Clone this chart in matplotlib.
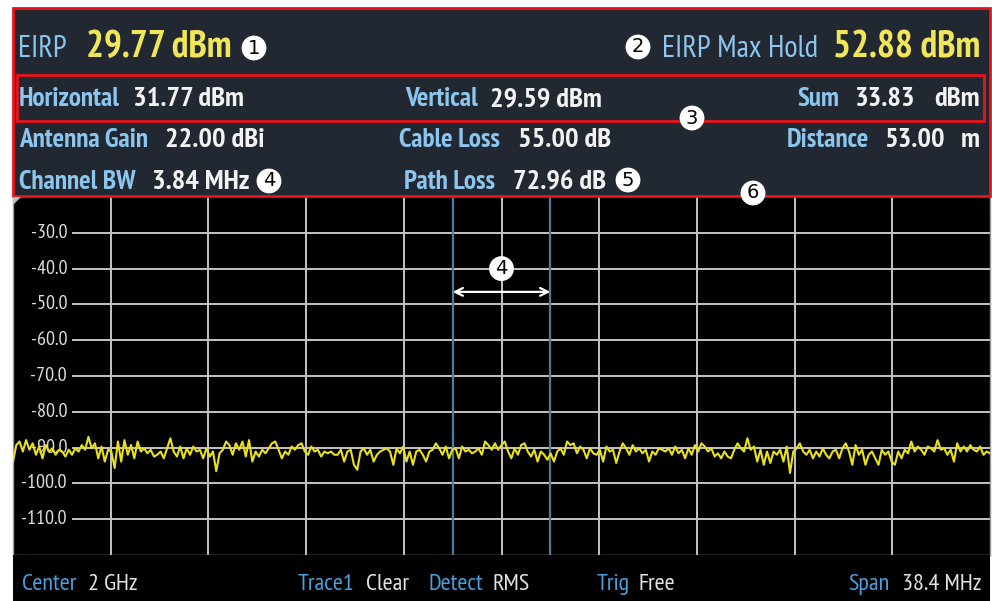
import matplotlib
matplotlib.use('Agg')
import matplotlib.pyplot as plt
from matplotlib import font_manager
from matplotlib.patches import Rectangle, Polygon
import numpy as np

# spectrum settings
center_freq = '2 GHz'
span_mhz = 38.4
channel_bw_mhz = 3.84
ref_top, ref_bottom = -20, -120
level_ticks = [-30, -40, -50, -60, -70, -80, -90, -100, -110]

# trace (dBm) left to right
trace_left = [-93.9, -89.3, -88.3, -91.1, -87.9, -90.6, -88.8, -92.0, -89.7, -93.0,
              -89.3, -91.1, -90.2, -92.0, -90.6, -91.1, -92.5, -90.6, -92.0, -90.2,
              -91.1, -89.3, -90.6, -87.0, -90.2, -88.8, -93.0, -89.7, -93.9, -90.6,
              -91.1, -95.7, -88.3, -93.9, -87.9, -92.0, -89.3, -93.0, -88.3, -91.1,
              -90.2, -91.6, -90.6, -92.5, -92.0, -91.1, -93.0, -90.2, -87.4, -91.1,
              -92.5, -89.7, -93.0, -90.2, -92.0, -89.7, -91.1, -90.6, -93.0, -90.2,
              -92.5, -91.1, -96.6, -91.6, -90.6, -88.3, -89.3, -92.0, -88.8, -90.6,
              -88.3, -92.5, -87.9, -93.9, -91.1, -92.5, -90.6, -91.6, -90.2, -88.8,
              -88.3, -90.6, -93.0, -91.1, -92.0, -89.7, -90.6, -89.3, -88.8, -91.1,
              -92.0, -89.7, -91.1, -90.6, -92.5, -91.1, -91.6, -91.1, -92.0]
trace_mid = [-92.0, -90.6, -93.9, -91.1, -90.6, -94.8, -96.2, -91.1, -90.2, -92.0,
             -90.6, -93.9, -92.0, -91.1, -90.6, -90.2, -91.1, -94.8, -90.2, -91.6,
             -89.7, -93.9, -91.1, -94.8, -91.1, -90.6, -92.0, -93.9, -91.1, -90.6,
             -88.8, -90.2, -92.0, -89.7, -93.0, -90.6, -90.2, -93.0, -89.7, -91.1,
             -90.6, -91.6, -91.1, -90.2, -92.0, -88.3, -89.3, -90.6, -88.8, -90.6,
             -89.3, -88.3, -91.1, -93.0, -90.2, -92.0, -89.3, -88.8, -91.1, -92.5,
             -90.6, -93.9, -91.1, -92.0, -93.4, -91.6, -93.9, -91.1, -90.2, -92.0,
             -88.3, -89.3, -88.8, -91.6, -89.7, -90.6, -93.0, -90.2, -91.6, -92.0,
             -90.6, -93.9, -89.7, -91.1, -90.6, -94.3, -91.1, -88.8, -90.2, -92.0,
             -89.3, -91.1, -90.2, -91.6, -90.6, -93.9, -91.1, -92.0, -90.2]
trace_right = [-90.6, -91.1, -90.2, -92.0, -89.7, -91.6, -90.6, -93.0, -90.2, -92.0,
               -89.3, -91.1, -88.8, -89.7, -91.1, -90.2, -92.5, -91.6, -93.0, -91.1,
               -92.5, -93.0, -90.6, -88.8, -90.2, -91.1, -87.4, -90.6, -89.7, -93.9,
               -90.6, -94.8, -91.1, -94.3, -91.1, -92.0, -90.6, -93.9, -89.7, -97.1,
               -91.1, -90.2, -88.8, -91.1, -92.0, -90.6, -93.0, -91.1, -92.5, -90.2,
               -92.0, -93.0, -91.1, -90.6, -93.0, -90.2, -88.8, -91.1, -94.8, -89.3,
               -92.0, -90.6, -94.8, -92.0, -91.1, -93.0, -94.8, -90.6, -92.0, -91.1,
               -93.9, -94.8, -91.1, -93.0, -90.6, -91.6, -88.3, -91.1, -89.7, -90.6,
               -92.0, -89.7, -90.2, -91.1, -87.9, -90.6, -90.2, -92.0, -90.6, -93.9,
               -88.8, -91.1, -89.7, -91.1, -89.3, -90.6, -91.1, -89.7, -92.0, -91.1,
               -91.6]

# header readouts
eirp = ('EIRP', '29.77 dBm')
eirp_max = ('EIRP Max Hold', '52.88 dBm')
header_labels = ['Horizontal', 'Vertical', 'Sum',
                 'Antenna Gain', 'Cable Loss', 'Distance',
                 'Channel BW', 'Path Loss']
header_values = ['31.77', '29.59', '33.83',
                 '22.00', '55.00', '53.00',
                 '3.84', '72.96']
header_units = ['dBm', 'dBm', 'dBm',
                'dBi', 'dB', 'm',
                'MHz', 'dB']

# status bar
status_labels = ['Center', 'Trace1', 'Detect', 'Trig', 'Span']
status_values = [center_freq, 'Clear', 'RMS', 'Free', '38.4 MHz']

# pick a narrow sans font
avail = {f.name for f in font_manager.fontManager.ttflist}
prefs = ['Liberation Sans Narrow', 'Arial Narrow', 'PT Sans Narrow', 'Archivo Narrow',
         'Roboto Condensed', 'Sofia Sans Semi Condensed', 'Liberation Sans']
narrow = [p for p in prefs if p in avail][0]
plt.rcParams['font.family'] = [narrow, 'DejaVu Sans']

W, H = 992, 601
fig = plt.figure(figsize=(W / 100, H / 100), dpi=100)
fig.patch.set_facecolor('white')

# colours
panel_bg = '#222831'
lbl_blue = '#8cc6ee'
bar_blue = '#4a9fdc'
yellow = '#f1e65a'
red = '#e8141c'
grid_c = '#c4c4c4'

# ---- spectrum plot ----
x0, x1, y0, y1 = 13, 990, 197, 555
ax = fig.add_axes([x0 / W, 1 - y1 / H, (x1 - x0) / W, (y1 - y0) / H])
ax.set_facecolor('black')
ax.set_xlim(-span_mhz / 2, span_mhz / 2)
ax.set_ylim(ref_bottom, ref_top)
ax.set_xticks([])
ax.set_yticks([])
for s in ax.spines.values():
    s.set_color('#9a9a9a')
    s.set_linewidth(1)
ax.spines['top'].set_visible(False)

div = span_mhz / 10
for i in range(1, 10):
    ax.axvline(-span_mhz / 2 + i * div, color=grid_c, lw=1.4, zorder=1)
label_end = (73 - x0) / (x1 - x0)
for lv in level_ticks:
    ax.axhline(lv, xmin=label_end, color=grid_c, lw=1.4, zorder=1)
    ax.text((67 - x0) / (x1 - x0), lv, '%.1f' % lv, transform=ax.get_yaxis_transform(),
            ha='right', va='center', color='#dcdcdc', fontsize=14.5, zorder=2)

# channel bandwidth markers
for xb in (-channel_bw_mhz / 2, channel_bw_mhz / 2):
    ax.axvline(xb, color='#4f7d9e', lw=1.6, zorder=2)
ax.annotate('', xy=(-channel_bw_mhz / 2, -46.5), xytext=(channel_bw_mhz / 2, -46.5),
            arrowprops=dict(arrowstyle='<->', color='white', lw=1.6,
                            shrinkA=0, shrinkB=0, mutation_scale=14), zorder=4)
ax.text(0, -40, '4', ha='center', va='center', fontsize=14, color='black',
        family='DejaVu Sans', zorder=5,
        bbox=dict(boxstyle='circle,pad=0.15', fc='white', ec='none'))

trace = trace_left + trace_mid + trace_right
freq = np.linspace(-span_mhz / 2, span_mhz / 2, len(trace))
ax.plot(freq, trace, color='#e9e01e', lw=1.5, zorder=3)

# ---- overlay in pixel coordinates ----
ov = fig.add_axes([0, 0, 1, 1], zorder=10)
ov.set_xlim(0, W)
ov.set_ylim(H, 0)
ov.axis('off')
ov.patch.set_alpha(0)

# header panel
ov.add_patch(Rectangle((13, 8), 977, 188, fc=panel_bg, ec=red, lw=2, zorder=1))
ov.add_patch(Rectangle((17, 75), 967, 46, fc='none', ec=red, lw=2, zorder=2))
# status bar
ov.add_patch(Rectangle((13, 555), 977, 46, fc='black', ec='none', zorder=1))
# corner marker
ov.add_patch(Polygon([[13, 197], [21, 197], [13, 205]], fc='#bdbdbd', ec='none', zorder=2))


def badge(x, y, n):
    ov.text(x, y, str(n), ha='center', va='center', fontsize=14, color='black',
            family='DejaVu Sans', zorder=6,
            bbox=dict(boxstyle='circle,pad=0.15', fc='white', ec='none'))


# EIRP row
ov.text(18, 57, eirp[0], color=lbl_blue, fontsize=22, zorder=3)
ov.text(86, 57, eirp[1], color=yellow, fontsize=27, fontweight='bold', zorder=3)
ov.text(818, 57, eirp_max[0], color=lbl_blue, fontsize=22, ha='right', zorder=3)
ov.text(980, 57, eirp_max[1], color=yellow, fontsize=27, fontweight='bold', ha='right', zorder=3)

# readout grid positions: label x, value x, unit x (None = follows value), baseline
hdr_pos = [(19, 133, None, 106), (405, 490, None, 106), (797, 915, 980, 106),
           (19, 165, None, 147), (399, 518, None, 147), (787, 945, 980, 147),
           (19, 152, None, 189), (404, 513, None, 189)]
for lab, val, unit, (lx, vx, ux, by) in zip(header_labels, header_values, header_units, hdr_pos):
    ov.text(lx, by, lab, color=lbl_blue, fontsize=19.5, fontweight='bold', zorder=3)
    if ux is None:
        ov.text(vx, by, val + ' ' + unit, color='#f2f2f2', fontsize=20.5,
                fontweight='bold', zorder=3)
    else:
        ov.text(vx, by, val, color='#f2f2f2', fontsize=20.5, fontweight='bold',
                ha='right', zorder=3)
        ov.text(ux, by, unit, color='#f2f2f2', fontsize=20.5, fontweight='bold',
                ha='right', zorder=3)

badge(254, 48, 1)
badge(638, 47, 2)
badge(692, 118, 3)
badge(269, 181, 4)
badge(628, 180, 5)
badge(753, 193, 6)

# status bar text
status_pos = [(22, 88), (298, 366), (428, 493), (597, 638), (848, 902)]
for lab, val, (lx, vx) in zip(status_labels, status_values, status_pos):
    ov.text(lx, 590, lab, color=bar_blue, fontsize=17.5, zorder=3)
    ov.text(vx, 590, val, color='#e2e2e2', fontsize=17.5, zorder=3)

fig.savefig('out.png', dpi=100, facecolor='white')
